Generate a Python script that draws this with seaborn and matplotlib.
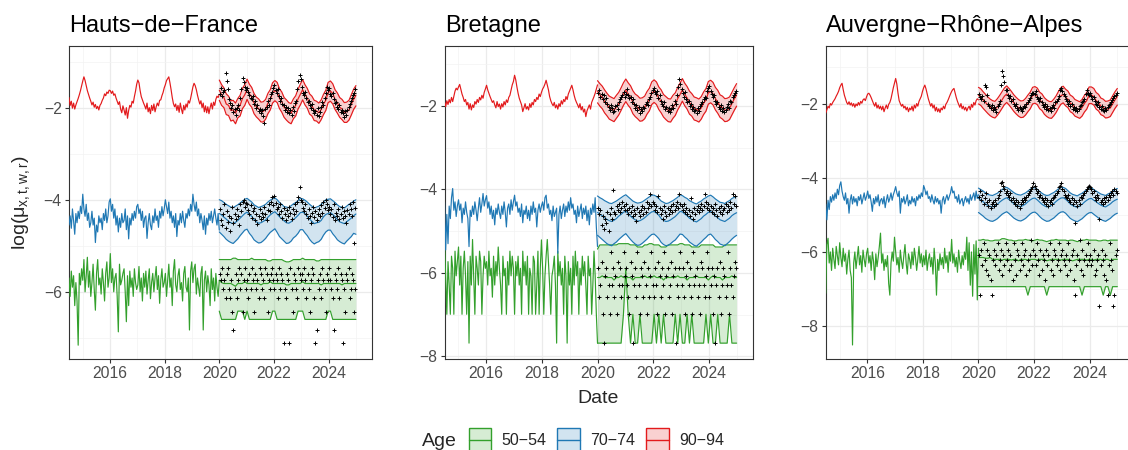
import numpy as np
import matplotlib
matplotlib.use("Agg")
import matplotlib.pyplot as plt
import seaborn as sns
from matplotlib.patches import Rectangle

sns.set_theme(style="ticks")
plt.rcParams["font.family"] = ["Liberation Sans", "DejaVu Sans"]
plt.rcParams["mathtext.fontset"] = "custom"
plt.rcParams["mathtext.rm"] = "Liberation Sans"
plt.rcParams["mathtext.it"] = "Liberation Sans:italic"

regions = ["Hauts−de−France", "Bretagne", "Auvergne−Rhône−Alpes"]
ages = ["50−54", "70−74", "90−94"]
age_colors = ["#33A02C", "#1F78B4", "#E31A1C"]
x_major = [2016, 2018, 2020, 2022, 2024]
y_major = [[-6, -4, -2], [-8, -6, -4, -2], [-8, -6, -4, -2]]

# observed history, two values per month, Jul 2014 -> Dec 2019
hist_span = (2014.5, 2020.0)
# forecast quantiles, monthly, 2020 -> 2025
band_span = (2020.0, 2025.0)
# observed values during the forecast period, two per month
obs_span = (2020.02, 2024.98)

# ---------------- Hauts-de-France ----------------
hist_hdf_90 = [
    -1.78, -1.95, -1.86, -2.01, -1.9, -2.03, -1.94, -1.87, -1.8, -1.72, -1.63, -1.52,
    -1.42, -1.33, -1.41, -1.52, -1.63, -1.71, -1.79, -1.86, -1.94, -1.88, -1.99, -1.93,
    -2.02, -1.97, -2.05, -1.95, -1.91, -1.84, -1.79, -1.7, -1.74, -1.66, -1.69, -1.62,
    -1.63, -1.69, -1.64, -1.73, -1.7, -1.79, -1.86, -1.93, -1.87, -2.03, -2.11, -1.96,
    -2.05, -2.16, -2.0, -2.23, -2.06, -1.95, -1.99, -1.86, -1.9, -1.76, -1.64, -1.49,
    -1.4, -1.46, -1.63, -1.76, -1.83, -1.9, -1.96, -2.03, -1.9, -2.09, -2.0, -2.13,
    -1.95, -2.06, -1.92, -2.09, -1.98, -1.9, -1.96, -1.84, -1.83, -1.74, -1.67, -1.57,
    -1.5, -1.41, -1.37, -1.33, -1.46, -1.61, -1.78, -1.91, -1.98, -1.92, -2.06, -1.95,
    -2.1, -1.9, -2.03, -2.13, -1.95, -2.05, -1.92, -1.99, -1.85, -1.9, -1.8, -1.67,
    -1.55, -1.47, -1.52, -1.61, -1.73, -1.83, -1.92, -1.85, -2.0, -1.9, -2.09, -1.96,
    -2.11, -1.98, -2.13, -2.0, -1.9, -2.03, -1.88, -1.95, -1.82, -1.75, -1.78, -1.71,
]
hist_hdf_70 = [
    -4.55, -4.35, -4.62, -4.2, -4.46, -4.75, -4.3, -4.5, -4.25, -4.41, -4.14, -4.3,
    -3.88, -4.2, -4.36, -4.1, -4.45, -4.29, -4.6, -4.5, -4.25, -4.55, -4.4, -4.93,
    -4.55, -4.7, -4.35, -4.5, -4.4, -4.65, -4.3, -4.45, -4.2, -4.5, -4.35, -4.05,
    -3.98, -4.25, -4.1, -4.4, -4.2, -4.55, -4.35, -4.7, -4.4, -4.6, -4.3, -4.5,
    -4.45, -4.2, -4.65, -4.35, -4.85, -4.4, -4.55, -4.3, -4.45, -4.25, -4.4, -4.15,
    -4.1, -4.3, -4.2, -4.45, -4.25, -4.6, -4.4, -4.35, -4.84, -4.5, -4.3, -4.55,
    -4.65, -4.35, -4.5, -4.2, -4.45, -4.35, -4.6, -4.25, -4.4, -4.15, -4.35, -4.2,
    -4.0, -4.15, -4.3, -4.05, -4.4, -4.25, -4.5, -4.35, -4.6, -4.3, -4.8, -4.45,
    -4.55, -4.3, -4.5, -4.25, -4.45, -4.6, -4.3, -4.4, -4.2, -4.35, -4.1, -4.25,
    -3.88, -4.1, -4.25, -4.05, -4.35, -4.2, -4.5, -4.3, -4.45, -4.65, -4.35, -4.75,
    -4.4, -4.55, -4.3, -4.45, -4.25, -4.5, -4.35, -4.2, -4.4, -4.55, -4.3, -4.66,
]
hist_hdf_50 = [
    -5.7, -6.1, -5.55, -5.9, -5.65, -6.3, -5.8, -6.2, -7.16, -5.6, -5.85, -5.5,
    -5.75, -5.3, -6.0, -5.65, -5.25, -5.9, -5.55, -6.1, -5.8, -5.4, -5.95, -6.4,
    -5.6, -5.3, -5.85, -5.7, -6.05, -5.5, -5.8, -6.2, -5.6, -5.35, -5.9, -5.7,
    -5.17, -5.8, -5.5, -6.0, -5.7, -5.6, -6.1, -6.87, -5.4, -5.85, -5.75, -5.6,
    -5.5, -6.0, -6.65, -5.65, -6.3, -5.55, -5.9, -5.7, -6.1, -5.5, -5.8, -5.95,
    -5.85, -5.45, -6.0, -5.7, -6.2, -5.6, -5.9, -5.55, -6.05, -5.75, -5.5, -6.15,
    -5.8, -5.6, -6.0, -5.7, -5.45, -5.95, -5.65, -6.25, -5.75, -5.5, -5.9, -5.8,
    -5.6, -6.1, -5.75, -5.4, -5.9, -5.7, -6.3, -5.55, -5.3, -5.85, -6.0, -5.65,
    -5.5, -5.95, -5.8, -6.2, -5.6, -5.45, -5.9, -6.0, -5.7, -6.83, -5.55, -5.35,
    -5.8, -5.5, -5.4, -6.05, -5.7, -5.9, -6.1, -5.6, -5.45, -6.83, -5.75, -5.55,
    -6.0, -5.65, -5.85, -6.3, -5.5, -5.95, -5.7, -6.2, -5.6, -5.9, -6.1, -5.75,
]
med_hdf_90 = [
    -1.62, -1.72, -1.78, -1.92, -1.95, -2.06, -2.05, -2.12, -2.0, -1.95, -1.8, -1.72,
    -1.6, -1.7, -1.77, -1.9, -1.98, -2.02, -2.09, -2.08, -2.03, -1.9, -1.83, -1.68,
    -1.63, -1.66, -1.8, -1.87, -1.99, -2.04, -2.1, -2.12, -2.02, -1.95, -1.81, -1.71,
    -1.61, -1.71, -1.79, -1.91, -1.96, -2.05, -2.07, -2.11, -2.04, -1.92, -1.84, -1.67,
    -1.64, -1.69, -1.82, -1.89, -1.99, -2.03, -2.1, -2.09, -2.05, -1.93, -1.82, -1.73,
]
hi_hdf_90 = [
    -1.4, -1.5, -1.57, -1.7, -1.75, -1.85, -1.84, -1.9, -1.8, -1.73, -1.58, -1.5,
    -1.38, -1.49, -1.56, -1.69, -1.77, -1.81, -1.88, -1.87, -1.82, -1.69, -1.61, -1.46,
    -1.41, -1.45, -1.59, -1.66, -1.78, -1.83, -1.89, -1.91, -1.81, -1.74, -1.6, -1.49,
    -1.39, -1.5, -1.58, -1.7, -1.75, -1.84, -1.86, -1.9, -1.83, -1.71, -1.62, -1.45,
    -1.42, -1.48, -1.61, -1.68, -1.78, -1.82, -1.89, -1.88, -1.84, -1.72, -1.6, -1.52,
]
lo_hdf_90 = [
    -1.84, -1.95, -2.0, -2.15, -2.17, -2.29, -2.27, -2.35, -2.22, -2.18, -2.02, -1.95,
    -1.82, -1.93, -1.99, -2.13, -2.2, -2.25, -2.31, -2.31, -2.25, -2.13, -2.05, -1.9,
    -1.85, -1.89, -2.02, -2.1, -2.21, -2.27, -2.32, -2.35, -2.24, -2.18, -2.03, -1.94,
    -1.83, -1.94, -2.01, -2.14, -2.18, -2.28, -2.29, -2.34, -2.26, -2.15, -2.06, -1.89,
    -1.86, -1.92, -2.04, -2.12, -2.21, -2.26, -2.32, -2.32, -2.27, -2.16, -2.04, -1.96,
]
obs_hdf_90 = [
    -1.7, -1.58, -1.75, -1.66, -1.62, -1.25, -1.43, -1.6, -1.82, -1.9, -2.0, -1.95,
    -2.1, -2.02, -2.15, -2.0, -1.95, -2.05, -1.8, -1.6, -1.36, -1.45, -1.55, -1.62,
    -1.58, -1.65, -1.72, -1.78, -1.82, -1.75, -1.92, -1.85, -2.0, -1.95, -2.08, -2.02,
    -2.12, -2.05, -2.18, -2.34, -2.02, -1.98, -1.85, -1.95, -1.78, -1.7, -1.65, -1.58,
    -1.5, -1.62, -1.68, -1.6, -1.75, -1.85, -1.8, -1.92, -1.95, -2.05, -1.98, -2.1,
    -2.0, -2.12, -2.05, -2.15, -1.98, -2.08, -1.9, -1.85, -1.6, -1.42, -1.3, -1.38,
    -1.55, -1.68, -1.72, -1.65, -1.78, -1.88, -1.85, -1.95, -2.0, -1.92, -2.05, -2.12,
    -2.08, -2.15, -2.0, -2.18, -2.1, -1.98, -1.88, -1.95, -1.78, -1.68, -1.55, -1.62,
    -1.58, -1.7, -1.75, -1.68, -1.82, -1.9, -1.88, -1.98, -2.02, -1.95, -2.1, -2.05,
    -2.12, -2.2, -2.08, -2.15, -2.05, -1.98, -1.92, -1.85, -1.8, -1.72, -1.68, -1.6,
]
med_hdf_70 = [
    -4.3, -4.33, -4.38, -4.42, -4.47, -4.5, -4.52, -4.49, -4.45, -4.4, -4.35, -4.3,
    -4.27, -4.32, -4.36, -4.43, -4.48, -4.51, -4.5, -4.47, -4.44, -4.38, -4.33, -4.29,
    -4.26, -4.31, -4.37, -4.41, -4.46, -4.5, -4.51, -4.48, -4.43, -4.39, -4.34, -4.28,
    -4.27, -4.3, -4.36, -4.42, -4.47, -4.52, -4.5, -4.49, -4.45, -4.37, -4.32, -4.3,
    -4.28, -4.32, -4.37, -4.43, -4.48, -4.5, -4.52, -4.48, -4.44, -4.4, -4.35, -4.31,
]
hi_hdf_70 = [
    -4.0, -4.02, -4.06, -4.1, -4.13, -4.16, -4.17, -4.14, -4.11, -4.07, -4.03, -3.99,
    -3.97, -4.01, -4.05, -4.11, -4.14, -4.17, -4.15, -4.13, -4.1, -4.05, -4.01, -3.98,
    -3.96, -4.0, -4.06, -4.1, -4.15, -4.16, -4.17, -4.13, -4.09, -4.06, -4.02, -3.97,
    -3.98, -4.01, -4.05, -4.1, -4.14, -4.18, -4.16, -4.14, -4.1, -4.05, -4.0, -3.99,
    -3.98, -4.02, -4.06, -4.11, -4.15, -4.16, -4.18, -4.14, -4.1, -4.07, -4.03, -4.0,
]
lo_hdf_70 = [
    -4.7, -4.75, -4.8, -4.86, -4.9, -4.93, -4.95, -4.9, -4.85, -4.78, -4.72, -4.66,
    -4.64, -4.73, -4.79, -4.87, -4.91, -4.94, -4.93, -4.89, -4.84, -4.77, -4.71, -4.67,
    -4.63, -4.71, -4.8, -4.85, -4.9, -4.95, -4.94, -4.9, -4.83, -4.79, -4.73, -4.65,
    -4.65, -4.72, -4.78, -4.86, -4.92, -4.96, -4.93, -4.91, -4.86, -4.77, -4.7, -4.66,
    -4.66, -4.74, -4.8, -4.87, -4.91, -4.94, -4.96, -4.9, -4.85, -4.8, -4.73, -4.75,
]
obs_hdf_70 = [
    -4.2, -4.45, -4.55, -4.3, -4.1, -4.62, -4.25, -4.48, -4.35, -4.68, -4.4, -4.15,
    -4.5, -4.3, -4.42, -4.2, -4.35, -4.55, -4.1, -4.25, -4.05, -4.0, -4.15, -4.08,
    -4.1, -4.22, -4.3, -4.12, -4.4, -4.25, -4.18, -4.45, -4.3, -4.52, -4.35, -4.2,
    -4.42, -4.28, -4.38, -4.15, -4.3, -4.45, -4.22, -4.1, -4.25, -4.05, -3.95, -4.12,
    -3.92, -4.08, -4.2, -4.15, -4.32, -4.1, -4.25, -4.4, -4.18, -4.3, -4.45, -4.22,
    -4.35, -4.15, -4.28, -4.42, -4.2, -4.32, -4.1, -4.25, -4.05, -3.95, -3.72, -4.0,
    -4.05, -4.18, -4.25, -4.1, -4.3, -4.4, -4.2, -4.35, -4.5, -4.28, -4.15, -4.38,
    -4.25, -4.45, -4.3, -4.2, -4.35, -4.12, -4.28, -4.05, -4.18, -4.0, -4.1, -4.22,
    -4.15, -4.3, -4.2, -4.38, -4.1, -4.45, -4.28, -4.35, -4.2, -4.42, -4.3, -4.15,
    -4.4, -4.25, -4.35, -4.5, -4.22, -4.3, -4.1, -4.2, -4.35, -4.05, -4.95, -4.18,
]
med_hdf_50 = [
    -5.75, -5.8, -5.82, -5.82, -5.82, -5.82, -5.85, -5.88, -5.82, -5.82, -5.82, -5.78,
    -5.82, -5.82, -5.82, -5.82, -5.82, -5.82, -5.85, -5.82, -5.82, -5.82, -5.78, -5.82,
    -5.82, -5.82, -5.82, -5.82, -5.82, -5.85, -5.85, -5.82, -5.82, -5.82, -5.82, -5.82,
    -5.78, -5.82, -5.82, -5.82, -5.82, -5.82, -5.82, -5.82, -5.85, -5.82, -5.82, -5.82,
    -5.82, -5.82, -5.82, -5.82, -5.82, -5.85, -5.82, -5.82, -5.82, -5.82, -5.82, -5.82,
]
hi_hdf_50 = [
    -5.3, -5.3, -5.3, -5.3, -5.3, -5.3, -5.27, -5.27, -5.3, -5.3, -5.3, -5.3,
    -5.3, -5.3, -5.27, -5.3, -5.3, -5.3, -5.3, -5.3, -5.3, -5.33, -5.33, -5.3,
    -5.3, -5.3, -5.3, -5.3, -5.33, -5.35, -5.35, -5.33, -5.3, -5.3, -5.3, -5.3,
    -5.27, -5.3, -5.3, -5.3, -5.3, -5.3, -5.33, -5.33, -5.3, -5.3, -5.3, -5.3,
    -5.3, -5.3, -5.3, -5.3, -5.3, -5.3, -5.3, -5.3, -5.3, -5.3, -5.3, -5.3,
]
lo_hdf_50 = [
    -6.42, -6.6, -6.6, -6.6, -6.6, -6.6, -6.6, -6.6, -6.42, -6.42, -6.42, -6.6,
    -6.42, -6.6, -6.6, -6.6, -6.6, -6.6, -6.6, -6.6, -6.6, -6.6, -6.6, -6.42,
    -6.42, -6.6, -6.6, -6.6, -6.6, -6.6, -6.6, -6.6, -6.6, -6.6, -6.42, -6.42,
    -6.42, -6.6, -6.6, -6.6, -6.6, -6.6, -6.6, -6.6, -6.6, -6.6, -6.6, -6.42,
    -6.42, -6.6, -6.6, -6.6, -6.6, -6.6, -6.6, -6.6, -6.6, -6.6, -6.6, -6.6,
]
obs_hdf_50 = [
    -5.62, -5.75, -5.49, -5.93, -5.75, -6.14, -5.62, -5.49, -5.93, -6.14, -5.75, -6.43,
    -6.83, -5.93, -5.62, -6.14, -5.75, -5.49, -5.93, -5.62, -6.43, -5.75, -5.49, -5.93,
    -5.75, -6.14, -5.62, -5.93, -5.49, -5.75, -6.43, -5.62, -5.93, -5.75, -6.14, -5.49,
    -5.62, -5.93, -5.75, -6.14, -5.49, -5.62, -6.43, -5.75, -5.93, -5.62, -5.49, -5.75,
    -5.93, -5.62, -5.75, -6.14, -5.49, -5.93, -5.62, -5.75, -7.12, -5.93, -6.14, -5.62,
    -5.75, -7.12, -5.49, -5.93, -6.43, -5.62, -5.75, -5.93, -6.14, -5.49, -5.62, -5.75,
    -5.62, -5.93, -5.49, -5.75, -6.14, -5.62, -5.93, -6.43, -5.75, -5.49, -5.62, -6.14,
    -7.12, -6.83, -5.75, -5.93, -5.62, -6.14, -5.49, -5.75, -5.93, -6.43, -5.62, -5.75,
    -5.49, -5.75, -5.93, -6.14, -6.83, -5.62, -5.75, -5.93, -5.49, -6.14, -5.62, -5.75,
    -7.12, -5.93, -6.43, -5.62, -5.75, -5.49, -6.14, -5.93, -5.62, -5.75, -6.43, -5.93,
]

# ---------------- Bretagne ----------------
hist_bre_90 = [
    -1.9, -2.02, -1.88, -1.97, -1.85, -1.93, -1.8, -1.9, -1.78, -1.65, -1.58, -1.62,
    -1.55, -1.49, -1.6, -1.72, -1.8, -1.9, -1.85, -1.98, -1.92, -2.08, -1.95, -2.1,
    -1.98, -2.04, -1.9, -1.96, -1.85, -1.92, -1.8, -1.86, -1.75, -1.82, -1.68, -1.6,
    -1.51, -1.62, -1.7, -1.78, -1.85, -1.92, -1.88, -1.98, -2.05, -1.9, -2.02, -1.96,
    -2.08, -1.95, -2.03, -1.9, -1.98, -1.86, -1.92, -1.8, -1.75, -1.62, -1.5, -1.42,
    -1.27, -1.38, -1.55, -1.7, -1.82, -1.9, -1.98, -2.14, -2.05, -1.95, -2.08, -2.02,
    -2.1, -1.95, -2.04, -1.92, -1.98, -1.85, -1.9, -1.8, -1.85, -1.72, -1.78, -1.68,
    -1.6, -1.55, -1.48, -1.39, -1.5, -1.62, -1.78, -1.88, -1.95, -2.0, -1.92, -2.05,
    -1.98, -2.08, -1.95, -2.02, -1.88, -1.96, -1.85, -1.9, -1.78, -1.85, -1.72, -1.65,
    -1.58, -1.51, -1.62, -1.75, -1.85, -1.92, -1.98, -2.05, -1.95, -2.1, -2.02, -2.15,
    -2.08, -2.26, -2.12, -2.05, -1.98, -2.08, -1.92, -1.85, -1.78, -1.7, -1.6, -1.5,
]
hist_bre_70 = [
    -4.3, -5.45, -4.6, -5.3, -4.4, -4.7, -4.2, -3.98, -4.5, -4.3, -4.65, -4.4,
    -4.25, -4.5, -4.35, -4.8, -4.45, -4.6, -4.3, -4.55, -4.7, -5.37, -4.5, -4.65,
    -4.4, -4.6, -4.3, -4.5, -4.75, -4.45, -4.2, -4.55, -4.35, -4.1, -4.4, -4.25,
    -4.15, -4.45, -4.3, -4.6, -4.4, -4.7, -4.5, -4.85, -4.45, -4.6, -4.35, -4.55,
    -4.7, -4.4, -4.6, -4.3, -4.55, -4.9, -4.45, -4.35, -4.6, -4.25, -4.5, -4.3,
    -4.14, -4.4, -4.3, -4.55, -4.45, -4.65, -4.35, -4.8, -4.5, -4.6, -4.4, -4.7,
    -4.5, -4.75, -4.4, -4.6, -4.3, -4.55, -4.45, -4.9, -4.5, -4.35, -4.55, -4.4,
    -4.3, -4.5, -4.2, -4.14, -4.45, -4.35, -4.6, -4.5, -4.75, -4.4, -4.65, -4.55,
    -4.45, -5.53, -4.6, -4.4, -4.7, -4.5, -4.35, -4.65, -4.4, -4.55, -4.3, -4.5,
    -4.2, -4.45, -4.35, -4.6, -4.5, -4.8, -4.4, -4.65, -4.5, -4.35, -4.7, -4.45,
    -4.6, -4.4, -4.75, -4.5, -4.85, -4.45, -4.6, -4.35, -4.55, -4.2, -4.9, -5.37,
]
hist_bre_50 = [
    -5.2, -6.07, -6.99, -5.73, -6.29, -6.99, -5.6, -5.89, -6.99, -5.48, -6.07, -5.73,
    -5.38, -6.29, -5.6, -6.99, -5.89, -5.48, -6.07, -6.99, -5.73, -7.68, -5.6, -6.29,
    -5.2, -6.07, -6.99, -5.6, -5.89, -6.29, -5.48, -5.73, -6.99, -6.07, -5.6, -5.89,
    -5.73, -6.29, -5.48, -6.07, -5.89, -6.58, -5.6, -6.29, -5.73, -6.07, -5.38, -5.89,
    -6.29, -6.99, -5.6, -6.07, -5.89, -6.99, -5.73, -6.29, -5.48, -6.07, -5.6, -5.89,
    -6.99, -5.73, -6.07, -5.6, -6.29, -5.89, -6.99, -5.48, -6.07, -5.73, -6.29, -5.6,
    -6.99, -5.89, -6.07, -6.99, -5.6, -5.73, -6.99, -6.29, -5.48, -6.99, -5.89, -5.21,
    -5.89, -6.99, -6.07, -5.6, -5.2, -5.73, -6.29, -6.99, -6.07, -5.89, -5.6, -6.29,
    -7.68, -5.48, -6.07, -5.73, -6.29, -5.89, -6.99, -5.6, -6.07, -7.68, -5.73, -6.29,
    -5.89, -6.99, -5.6, -6.29, -5.48, -6.07, -5.73, -6.99, -5.89, -6.29, -5.6, -6.07,
    -5.73, -6.29, -6.99, -5.6, -6.07, -5.89, -6.99, -6.29, -5.48, -6.07, -6.99, -7.68,
]
med_bre_90 = [
    -1.66, -1.74, -1.8, -1.9, -1.97, -2.05, -2.08, -2.11, -2.03, -1.95, -1.84, -1.72,
    -1.63, -1.72, -1.79, -1.92, -1.99, -2.04, -2.1, -2.09, -2.04, -1.93, -1.85, -1.7,
    -1.65, -1.7, -1.82, -1.9, -2.0, -2.06, -2.11, -2.12, -2.03, -1.96, -1.83, -1.73,
    -1.62, -1.73, -1.81, -1.93, -1.98, -2.07, -2.09, -2.12, -2.05, -1.94, -1.86, -1.69,
    -1.66, -1.71, -1.83, -1.91, -2.01, -2.05, -2.11, -2.1, -2.06, -1.95, -1.84, -1.74,
]
hi_bre_90 = [
    -1.4, -1.47, -1.53, -1.62, -1.7, -1.77, -1.8, -1.83, -1.75, -1.68, -1.57, -1.45,
    -1.36, -1.45, -1.52, -1.64, -1.72, -1.76, -1.82, -1.81, -1.77, -1.66, -1.58, -1.43,
    -1.38, -1.43, -1.55, -1.62, -1.73, -1.78, -1.83, -1.84, -1.75, -1.69, -1.56, -1.46,
    -1.35, -1.46, -1.54, -1.65, -1.71, -1.79, -1.81, -1.84, -1.78, -1.67, -1.59, -1.42,
    -1.39, -1.44, -1.56, -1.63, -1.74, -1.77, -1.83, -1.82, -1.79, -1.68, -1.57, -1.47,
]
lo_bre_90 = [
    -1.93, -2.01, -2.07, -2.17, -2.24, -2.32, -2.35, -2.38, -2.3, -2.22, -2.11, -1.99,
    -1.9, -1.99, -2.06, -2.19, -2.26, -2.31, -2.37, -2.36, -2.31, -2.2, -2.12, -1.97,
    -1.92, -1.97, -2.09, -2.17, -2.27, -2.33, -2.38, -2.39, -2.3, -2.23, -2.1, -2.0,
    -1.89, -2.0, -2.08, -2.2, -2.25, -2.34, -2.36, -2.39, -2.32, -2.21, -2.13, -1.96,
    -1.93, -1.98, -2.1, -2.18, -2.28, -2.32, -2.38, -2.37, -2.33, -2.22, -2.11, -2.01,
]
obs_bre_90 = [
    -1.7, -1.62, -1.78, -1.72, -1.85, -1.75, -1.9, -1.82, -1.95, -2.02, -2.1, -1.98,
    -2.05, -2.15, -2.12, -2.0, -1.98, -2.08, -1.92, -1.85, -1.8, -1.75, -1.68, -1.78,
    -1.72, -1.6, -1.75, -1.82, -1.78, -1.9, -1.85, -1.95, -2.05, -1.98, -2.1, -2.02,
    -2.18, -2.08, -2.12, -2.02, -2.05, -1.95, -1.9, -1.98, -1.85, -1.78, -1.7, -1.62,
    -1.58, -1.68, -1.72, -1.65, -1.82, -1.75, -1.88, -1.95, -2.0, -1.92, -2.08, -2.02,
    -2.12, -2.05, -2.15, -2.08, -1.98, -2.05, -1.88, -1.95, -1.75, -1.55, -1.35, -1.48,
    -1.6, -1.7, -1.78, -1.68, -1.85, -1.92, -1.88, -2.0, -1.95, -2.08, -2.02, -2.12,
    -2.1, -2.18, -2.05, -2.12, -2.0, -1.95, -1.92, -1.85, -1.78, -1.82, -1.65, -1.58,
    -1.52, -1.65, -1.72, -1.8, -1.75, -1.88, -1.95, -1.9, -2.02, -2.08, -1.98, -2.12,
    -2.05, -2.15, -2.1, -2.02, -1.95, -2.05, -1.88, -1.92, -1.8, -1.75, -1.7, -1.65,
]
med_bre_70 = [
    -4.55, -4.6, -4.63, -4.68, -4.72, -4.75, -4.77, -4.74, -4.7, -4.64, -4.6, -4.55,
    -4.52, -4.58, -4.64, -4.69, -4.73, -4.76, -4.75, -4.72, -4.68, -4.63, -4.58, -4.54,
    -4.53, -4.57, -4.62, -4.7, -4.74, -4.77, -4.76, -4.73, -4.69, -4.65, -4.59, -4.53,
    -4.54, -4.59, -4.63, -4.69, -4.72, -4.76, -4.78, -4.74, -4.7, -4.64, -4.6, -4.55,
    -4.53, -4.58, -4.64, -4.68, -4.73, -4.75, -4.77, -4.73, -4.69, -4.63, -4.59, -4.56,
]
hi_bre_70 = [
    -4.16, -4.2, -4.23, -4.27, -4.3, -4.33, -4.34, -4.31, -4.28, -4.24, -4.2, -4.16,
    -4.13, -4.18, -4.23, -4.28, -4.31, -4.33, -4.32, -4.3, -4.26, -4.22, -4.18, -4.14,
    -4.14, -4.17, -4.22, -4.28, -4.31, -4.34, -4.33, -4.3, -4.27, -4.23, -4.19, -4.13,
    -4.15, -4.19, -4.22, -4.27, -4.3, -4.33, -4.35, -4.31, -4.28, -4.23, -4.2, -4.16,
    -4.14, -4.18, -4.23, -4.27, -4.31, -4.32, -4.34, -4.3, -4.27, -4.22, -4.19, -4.17,
]
lo_bre_70 = [
    -5.1, -5.15, -5.2, -5.25, -5.3, -5.33, -5.35, -5.3, -5.26, -5.2, -5.15, -5.1,
    -5.06, -5.13, -5.2, -5.26, -5.31, -5.34, -5.33, -5.29, -5.24, -5.19, -5.13, -5.08,
    -5.07, -5.12, -5.18, -5.27, -5.32, -5.35, -5.34, -5.3, -5.25, -5.21, -5.14, -5.07,
    -5.08, -5.14, -5.19, -5.26, -5.3, -5.34, -5.36, -5.31, -5.26, -5.2, -5.15, -5.09,
    -5.07, -5.13, -5.2, -5.25, -5.31, -5.33, -5.35, -5.3, -5.25, -5.19, -5.14, -5.1,
]
obs_bre_70 = [
    -4.45, -4.6, -4.5, -4.85, -4.65, -4.95, -4.7, -4.8, -4.55, -5.0, -4.6, -4.45,
    -4.7, -4.02, -4.55, -4.6, -4.4, -4.5, -4.35, -4.55, -4.45, -4.3, -4.4, -4.5,
    -4.35, -4.5, -4.6, -4.45, -4.55, -4.4, -4.65, -4.5, -4.6, -4.75, -4.45, -4.55,
    -4.65, -4.5, -4.4, -4.6, -4.45, -4.55, -4.3, -4.45, -4.35, -4.1, -4.4, -4.3,
    -4.35, -4.5, -4.4, -4.55, -4.15, -4.45, -4.6, -4.5, -4.7, -4.4, -4.55, -4.65,
    -4.45, -4.6, -4.5, -4.4, -4.55, -4.35, -4.5, -4.4, -4.3, -4.45, -4.1, -4.35,
    -4.4, -4.5, -4.35, -4.55, -4.45, -4.6, -4.5, -4.65, -4.2, -4.55, -4.7, -4.45,
    -4.6, -4.5, -4.4, -4.55, -4.45, -4.35, -4.5, -4.4, -4.1, -4.3, -4.45, -4.35,
    -4.5, -4.4, -4.55, -4.45, -4.6, -4.35, -4.5, -4.65, -4.45, -4.55, -4.4, -4.6,
    -4.5, -4.45, -4.35, -4.55, -4.4, -4.5, -4.3, -4.45, -4.1, -4.35, -4.15, -4.4,
]
med_bre_50 = [
    -6.11, -6.11, -6.07, -6.11, -6.11, -6.11, -6.11, -6.17, -6.11, -6.11, -6.07, -6.11,
    -6.11, -6.11, -6.11, -6.17, -6.11, -6.11, -6.11, -6.11, -6.07, -6.11, -6.11, -6.11,
    -6.07, -6.11, -6.11, -6.11, -6.17, -6.11, -6.11, -6.11, -6.11, -6.11, -6.07, -6.11,
    -6.11, -6.11, -6.17, -6.11, -6.11, -6.11, -6.07, -6.11, -6.11, -6.11, -6.11, -6.17,
    -6.11, -6.07, -6.11, -6.11, -6.11, -6.17, -6.11, -6.11, -6.11, -6.07, -6.11, -6.11,
]
hi_bre_50 = [
    -5.43, -5.33, -5.33, -5.33, -5.33, -5.33, -5.33, -5.33, -5.33, -5.3, -5.3, -5.3,
    -5.3, -5.3, -5.33, -5.33, -5.33, -5.38, -5.38, -5.38, -5.33, -5.33, -5.3, -5.3,
    -5.33, -5.33, -5.33, -5.38, -5.38, -5.38, -5.33, -5.33, -5.33, -5.33, -5.33, -5.3,
    -5.3, -5.33, -5.33, -5.33, -5.38, -5.38, -5.38, -5.38, -5.33, -5.33, -5.33, -5.33,
    -5.33, -5.33, -5.38, -5.38, -5.38, -5.38, -5.33, -5.33, -5.33, -5.33, -5.33, -5.33,
]
lo_bre_50 = [
    -7.68, -7.68, -7.68, -7.68, -7.68, -7.68, -7.68, -7.68, -7.68, -7.68, -7.68, -6.99,
    -5.89, -6.99, -7.68, -6.99, -7.68, -7.68, -6.99, -7.68, -7.68, -7.68, -7.68, -7.68,
    -6.99, -7.68, -6.99, -7.68, -6.99, -7.68, -7.68, -7.68, -7.68, -6.99, -7.68, -6.99,
    -7.68, -7.68, -6.99, -7.68, -6.99, -7.68, -7.68, -7.68, -7.68, -7.68, -6.99, -7.68,
    -6.99, -7.68, -7.68, -6.99, -7.68, -7.68, -7.68, -7.68, -6.99, -7.68, -7.68, -7.68,
]
obs_bre_50 = [
    -5.89, -6.58, -6.29, -5.73, -6.99, -7.68, -6.07, -5.89, -6.58, -6.29, -6.99, -5.49,
    -6.29, -5.89, -6.58, -6.07, -6.99, -5.73, -6.29, -5.89, -6.58, -6.29, -5.49, -6.07,
    -5.89, -6.29, -6.58, -6.99, -5.73, -6.07, -7.68, -6.29, -5.89, -6.58, -5.49, -6.29,
    -6.99, -5.89, -6.07, -6.58, -5.73, -6.29, -6.99, -5.89, -6.58, -6.07, -5.49, -6.29,
    -6.58, -5.89, -6.29, -6.99, -5.73, -6.07, -6.58, -5.89, -6.29, -5.49, -6.99, -6.07,
    -5.89, -6.58, -6.29, -5.73, -6.99, -6.07, -5.89, -7.68, -6.29, -6.58, -5.89, -5.49,
    -6.29, -5.89, -6.58, -6.99, -6.07, -5.73, -6.29, -5.89, -6.58, -6.99, -5.49, -6.29,
    -6.07, -5.89, -6.58, -6.29, -6.99, -5.73, -5.89, -6.29, -6.58, -6.07, -5.49, -5.89,
    -6.58, -6.29, -5.89, -6.99, -6.07, -7.68, -6.29, -5.89, -6.58, -5.73, -6.99, -6.29,
    -5.89, -6.07, -6.58, -6.29, -5.49, -6.99, -5.89, -6.29, -6.58, -6.07, -5.73, -5.89,
]

# ---------------- Auvergne-Rhone-Alpes ----------------
hist_ara_90 = [
    -2.24, -2.15, -2.05, -2.1, -1.98, -2.02, -1.95, -1.9, -1.85, -1.78, -1.72, -1.65,
    -1.55, -1.48, -1.43, -1.6, -1.75, -1.85, -1.95, -2.0, -1.93, -2.02, -1.96, -2.05,
    -1.98, -2.08, -1.99, -2.04, -1.95, -2.02, -1.92, -1.97, -1.88, -1.85, -1.9, -1.8,
    -1.72, -1.7, -1.75, -1.82, -1.9, -1.98, -2.05, -1.95, -2.1, -2.02, -2.12, -2.05,
    -2.15, -2.05, -2.2, -2.1, -2.02, -2.12, -2.0, -1.95, -1.85, -1.7, -1.55, -1.42,
    -1.3, -1.45, -1.7, -1.9, -1.98, -2.05, -2.0, -2.1, -2.05, -2.15, -2.08, -2.2,
    -2.1, -2.15, -2.05, -2.18, -2.02, -2.1, -1.98, -2.05, -1.92, -1.85, -1.78, -1.65,
    -1.55, -1.48, -1.58, -1.72, -1.85, -1.95, -2.05, -1.98, -2.1, -2.02, -2.18, -2.08,
    -2.2, -2.12, -2.22, -2.1, -2.15, -2.05, -2.12, -2.0, -1.95, -1.88, -1.8, -1.72,
    -1.65, -1.6, -1.57, -1.7, -1.82, -1.92, -2.0, -2.08, -1.98, -2.12, -2.05, -2.15,
    -2.08, -2.18, -2.1, -2.05, -2.15, -2.0, -2.08, -1.95, -2.02, -1.9, -1.85, -1.88,
]
hist_ara_70 = [
    -4.7, -5.13, -4.6, -4.85, -4.5, -4.65, -4.45, -4.6, -4.4, -4.55, -4.3, -4.45,
    -4.2, -4.1, -4.35, -4.5, -4.6, -4.4, -4.7, -4.55, -4.95, -4.6, -4.45, -4.7,
    -4.5, -4.65, -4.55, -4.75, -4.5, -4.6, -4.45, -4.7, -4.55, -4.4, -4.6, -4.5,
    -4.35, -4.55, -4.45, -4.65, -4.9, -4.55, -4.7, -4.5, -4.65, -4.45, -4.75, -4.6,
    -4.55, -4.7, -4.5, -4.8, -4.6, -4.45, -4.65, -4.55, -4.4, -4.6, -4.45, -4.35,
    -4.23, -4.4, -4.5, -4.35, -4.95, -4.55, -4.65, -4.5, -4.7, -4.6, -4.45, -4.75,
    -4.6, -4.7, -4.5, -4.65, -4.55, -4.75, -4.5, -4.6, -4.45, -4.55, -4.4, -4.5,
    -4.2, -4.3, -4.45, -4.35, -4.55, -4.5, -4.65, -4.45, -4.6, -4.7, -4.5, -4.65,
    -4.55, -4.7, -4.6, -4.95, -4.6, -4.5, -4.7, -4.55, -4.45, -4.6, -4.5, -4.4,
    -4.23, -4.4, -4.35, -4.55, -4.5, -4.65, -4.45, -4.7, -4.6, -4.55, -4.75, -4.6,
    -4.5, -4.65, -4.55, -4.7, -4.45, -4.6, -4.5, -4.4, -4.6, -4.35, -4.55, -4.45,
]
hist_ara_50 = [
    -7.12, -5.8, -5.63, -6.3, -6.0, -6.5, -5.9, -6.2, -6.45, -5.85, -6.1, -6.35,
    -5.75, -6.15, -6.4, -5.9, -6.25, -6.05, -6.6, -6.2, -5.95, -6.5, -6.7, -8.52,
    -6.3, -6.0, -6.45, -6.15, -5.85, -6.35, -6.1, -6.55, -5.95, -6.2, -6.4, -6.05,
    -5.9, -6.3, -6.1, -6.5, -6.0, -6.25, -6.75, -6.05, -6.4, -6.15, -5.85, -5.49,
    -6.3, -6.05, -6.5, -6.2, -6.4, -6.1, -6.85, -7.17, -6.3, -6.0, -6.25, -5.6,
    -6.0, -6.35, -6.15, -6.55, -5.95, -6.25, -6.45, -6.1, -5.8, -6.3, -6.6, -6.05,
    -6.2, -6.45, -6.0, -6.35, -5.9, -6.15, -6.5, -6.2, -5.85, -6.3, -6.05, -6.4,
    -6.1, -6.35, -5.95, -6.5, -6.2, -6.05, -6.4, -6.15, -6.6, -5.9, -6.3, -7.17,
    -6.2, -6.5, -6.05, -6.35, -6.15, -6.45, -5.9, -6.3, -6.1, -6.55, -6.0, -6.25,
    -5.66, -6.3, -6.05, -6.4, -6.15, -6.55, -5.95, -6.25, -6.45, -6.1, -6.35, -6.0,
    -6.2, -5.6, -6.5, -5.75, -6.9, -6.0, -7.2, -5.8, -6.6, -5.7, -7.3, -5.9,
]
med_ara_90 = [
    -1.76, -1.8, -1.88, -1.95, -2.02, -2.08, -2.12, -2.14, -2.07, -1.98, -1.88, -1.78,
    -1.72, -1.79, -1.87, -1.96, -2.03, -2.09, -2.13, -2.12, -2.06, -1.97, -1.89, -1.76,
    -1.74, -1.78, -1.89, -1.94, -2.04, -2.1, -2.14, -2.15, -2.08, -1.99, -1.87, -1.77,
    -1.73, -1.81, -1.86, -1.97, -2.01, -2.09, -2.12, -2.15, -2.09, -1.98, -1.9, -1.75,
    -1.75, -1.79, -1.9, -1.95, -2.05, -2.08, -2.14, -2.13, -2.1, -1.99, -1.88, -1.79,
]
hi_ara_90 = [
    -1.54, -1.58, -1.66, -1.73, -1.8, -1.86, -1.9, -1.92, -1.85, -1.76, -1.66, -1.56,
    -1.5, -1.57, -1.65, -1.74, -1.81, -1.87, -1.91, -1.9, -1.84, -1.75, -1.67, -1.54,
    -1.52, -1.56, -1.67, -1.72, -1.82, -1.88, -1.92, -1.93, -1.86, -1.77, -1.65, -1.55,
    -1.51, -1.59, -1.64, -1.75, -1.79, -1.87, -1.9, -1.93, -1.87, -1.76, -1.68, -1.53,
    -1.53, -1.57, -1.68, -1.73, -1.83, -1.86, -1.92, -1.91, -1.88, -1.77, -1.66, -1.57,
]
lo_ara_90 = [
    -1.99, -2.03, -2.11, -2.18, -2.25, -2.31, -2.35, -2.37, -2.3, -2.21, -2.11, -2.01,
    -1.95, -2.02, -2.1, -2.19, -2.26, -2.32, -2.36, -2.35, -2.29, -2.2, -2.12, -1.99,
    -1.97, -2.01, -2.12, -2.17, -2.27, -2.33, -2.37, -2.38, -2.31, -2.22, -2.1, -2.0,
    -1.96, -2.04, -2.09, -2.2, -2.24, -2.32, -2.35, -2.38, -2.32, -2.21, -2.13, -1.98,
    -1.98, -2.02, -2.13, -2.18, -2.28, -2.31, -2.37, -2.36, -2.33, -2.22, -2.11, -2.02,
]
obs_ara_90 = [
    -1.72, -1.8, -1.85, -1.78, -1.9, -1.48, -1.52, -1.75, -1.98, -2.05, -2.1, -2.02,
    -2.15, -2.08, -2.12, -2.2, -2.05, -1.98, -1.92, -1.48, -1.11, -1.23, -1.39, -1.61,
    -1.62, -1.75, -1.82, -1.78, -1.92, -1.85, -1.98, -2.05, -2.0, -2.1, -2.15, -2.08,
    -2.12, -2.18, -2.1, -2.05, -2.08, -1.98, -1.95, -1.88, -1.82, -1.75, -1.7, -1.68,
    -1.72, -1.65, -1.8, -1.85, -1.9, -1.82, -1.95, -2.02, -2.08, -1.98, -2.12, -2.05,
    -2.15, -2.1, -2.18, -2.08, -2.02, -2.1, -1.95, -1.9, -1.85, -1.78, -1.6, -1.55,
    -1.65, -1.72, -1.78, -1.85, -1.9, -1.98, -1.92, -2.05, -2.0, -2.12, -2.08, -2.15,
    -2.1, -2.18, -2.12, -2.05, -2.02, -1.95, -1.92, -1.85, -1.72, -1.62, -1.68, -1.75,
    -1.7, -1.78, -1.85, -1.8, -1.92, -1.98, -2.02, -1.95, -2.08, -2.12, -2.05, -2.15,
    -2.18, -2.1, -2.15, -2.08, -2.02, -1.98, -1.95, -1.88, -1.82, -1.78, -1.75, -1.7,
]
med_ara_70 = [
    -4.55, -4.6, -4.64, -4.7, -4.74, -4.77, -4.78, -4.75, -4.71, -4.65, -4.6, -4.56,
    -4.53, -4.58, -4.63, -4.69, -4.73, -4.76, -4.77, -4.74, -4.7, -4.64, -4.59, -4.55,
    -4.54, -4.59, -4.65, -4.71, -4.75, -4.78, -4.77, -4.73, -4.69, -4.63, -4.58, -4.54,
    -4.53, -4.57, -4.63, -4.7, -4.74, -4.77, -4.79, -4.75, -4.71, -4.65, -4.6, -4.56,
    -4.55, -4.6, -4.64, -4.69, -4.73, -4.76, -4.78, -4.74, -4.7, -4.64, -4.6, -4.57,
]
hi_ara_70 = [
    -4.27, -4.31, -4.35, -4.4, -4.44, -4.46, -4.47, -4.44, -4.41, -4.36, -4.31, -4.27,
    -4.25, -4.29, -4.34, -4.39, -4.43, -4.45, -4.46, -4.43, -4.4, -4.35, -4.3, -4.26,
    -4.26, -4.3, -4.36, -4.41, -4.45, -4.47, -4.46, -4.42, -4.39, -4.34, -4.29, -4.25,
    -4.25, -4.28, -4.34, -4.4, -4.44, -4.46, -4.48, -4.44, -4.41, -4.36, -4.31, -4.27,
    -4.26, -4.31, -4.35, -4.39, -4.43, -4.45, -4.47, -4.43, -4.4, -4.35, -4.31, -4.28,
]
lo_ara_70 = [
    -4.93, -4.98, -5.03, -5.09, -5.13, -5.16, -5.17, -5.14, -5.1, -5.04, -4.98, -4.94,
    -4.91, -4.96, -5.02, -5.08, -5.12, -5.15, -5.16, -5.13, -5.09, -5.03, -4.97, -4.93,
    -4.92, -4.97, -5.04, -5.1, -5.14, -5.17, -5.16, -5.12, -5.08, -5.02, -4.96, -4.92,
    -4.91, -4.95, -5.02, -5.09, -5.13, -5.16, -5.18, -5.14, -5.1, -5.04, -4.98, -4.94,
    -4.93, -4.98, -5.03, -5.08, -5.12, -5.15, -5.17, -5.13, -5.09, -5.03, -4.98, -4.95,
]
obs_ara_70 = [
    -4.5, -4.35, -4.6, -4.45, -4.7, -4.55, -4.4, -4.65, -4.75, -4.6, -4.8, -4.7,
    -4.65, -4.75, -4.6, -4.7, -4.55, -4.45, -4.35, -4.14, -4.1, -4.2, -4.3, -4.4,
    -4.35, -4.45, -4.5, -4.4, -4.6, -4.55, -4.65, -4.7, -4.6, -4.75, -4.65, -4.8,
    -4.7, -4.6, -4.65, -4.55, -4.6, -4.5, -4.45, -4.4, -4.35, -4.3, -4.25, -4.14,
    -4.2, -4.3, -4.4, -4.35, -4.5, -4.45, -4.55, -4.6, -4.65, -4.55, -4.7, -4.6,
    -4.75, -4.65, -4.6, -4.7, -4.55, -4.5, -4.45, -4.4, -4.35, -4.25, -4.2, -4.14,
    -4.3, -4.35, -4.45, -4.5, -4.55, -4.45, -4.6, -4.65, -4.55, -4.7, -4.6, -5.22,
    -4.65, -4.75, -4.6, -4.7, -4.5, -4.55, -4.45, -4.4, -4.35, -4.3, -4.25, -4.2,
    -4.23, -4.3, -4.4, -4.35, -4.5, -4.6, -4.45, -4.55, -5.12, -4.65, -4.6, -4.7,
    -4.55, -4.65, -4.5, -4.6, -4.45, -4.5, -4.4, -4.35, -4.45, -4.3, -4.35, -4.4,
]
med_ara_50 = [
    -6.15, -6.15, -6.15, -6.17, -6.17, -6.15, -6.2, -6.2, -6.2, -6.2, -6.22, -6.2,
    -6.2, -6.2, -6.22, -6.2, -6.2, -6.24, -6.2, -6.2, -6.2, -6.22, -6.2, -6.2,
    -6.2, -6.22, -6.2, -6.2, -6.2, -6.24, -6.22, -6.2, -6.2, -6.2, -6.2, -6.22,
    -6.2, -6.2, -6.2, -6.22, -6.24, -6.22, -6.2, -6.2, -6.2, -6.2, -6.22, -6.2,
    -6.2, -6.22, -6.2, -6.2, -6.2, -6.22, -6.2, -6.2, -6.24, -6.2, -6.2, -6.2,
]
hi_ara_50 = [
    -5.68, -5.68, -5.66, -5.68, -5.68, -5.7, -5.7, -5.68, -5.68, -5.68, -5.64, -5.64,
    -5.66, -5.68, -5.68, -5.7, -5.7, -5.68, -5.68, -5.68, -5.66, -5.68, -5.68, -5.7,
    -5.68, -5.66, -5.68, -5.68, -5.7, -5.72, -5.7, -5.68, -5.68, -5.66, -5.68, -5.68,
    -5.68, -5.68, -5.7, -5.68, -5.68, -5.7, -5.72, -5.7, -5.68, -5.68, -5.66, -5.68,
    -5.68, -5.68, -5.68, -5.7, -5.7, -5.68, -5.68, -5.7, -5.68, -5.68, -5.68, -5.68,
]
lo_ara_50 = [
    -6.94, -6.94, -6.94, -6.94, -6.94, -6.94, -6.94, -6.94, -6.94, -6.94, -6.94, -6.94,
    -6.94, -6.94, -6.94, -6.94, -6.94, -6.94, -6.94, -6.94, -6.94, -7.17, -6.94, -6.94,
    -6.94, -6.94, -6.94, -6.94, -6.94, -7.17, -6.94, -6.94, -6.94, -6.94, -6.94, -6.94,
    -6.94, -6.94, -6.94, -6.94, -6.94, -6.94, -6.94, -6.94, -7.17, -6.94, -6.94, -6.94,
    -6.94, -6.94, -6.94, -6.94, -6.94, -7.17, -6.94, -6.94, -7.17, -6.94, -6.94, -6.94,
]
obs_ara_50 = [
    -6.08, -7.17, -5.95, -6.35, -5.77, -6.22, -6.49, -5.95, -6.62, -6.08, -6.76, -7.17,
    -6.22, -5.95, -6.35, -6.08, -5.77, -6.49, -6.22, -5.95, -6.62, -6.08, -6.35, -5.77,
    -6.22, -5.95, -6.49, -6.08, -6.35, -6.76, -5.77, -6.22, -6.62, -5.95, -6.08, -6.49,
    -6.22, -5.77, -6.35, -6.08, -5.95, -6.62, -6.22, -6.49, -6.08, -5.68, -6.35, -5.95,
    -6.08, -6.35, -5.77, -6.22, -6.62, -5.95, -6.49, -6.08, -6.22, -6.76, -5.95, -6.35,
    -6.08, -5.77, -6.49, -6.22, -6.62, -5.95, -6.08, -6.35, -6.22, -5.77, -6.49, -6.08,
    -5.95, -6.22, -6.35, -6.08, -6.62, -5.77, -6.22, -6.49, -6.08, -5.95, -6.76, -7.17,
    -6.35, -6.08, -6.22, -5.68, -6.49, -5.95, -6.62, -6.22, -6.08, -6.35, -5.77, -6.22,
    -6.08, -6.35, -6.22, -5.95, -6.62, -6.49, -6.22, -6.08, -7.47, -6.35, -5.95, -6.22,
    -6.62, -6.08, -6.76, -7.17, -6.35, -5.77, -6.22, -6.49, -7.47, -7.17, -6.08, -5.95,
]

panels = {
    "Hauts−de−France": [
        (hist_hdf_50, lo_hdf_50, med_hdf_50, hi_hdf_50, obs_hdf_50),
        (hist_hdf_70, lo_hdf_70, med_hdf_70, hi_hdf_70, obs_hdf_70),
        (hist_hdf_90, lo_hdf_90, med_hdf_90, hi_hdf_90, obs_hdf_90),
    ],
    "Bretagne": [
        (hist_bre_50, lo_bre_50, med_bre_50, hi_bre_50, obs_bre_50),
        (hist_bre_70, lo_bre_70, med_bre_70, hi_bre_70, obs_bre_70),
        (hist_bre_90, lo_bre_90, med_bre_90, hi_bre_90, obs_bre_90),
    ],
    "Auvergne−Rhône−Alpes": [
        (hist_ara_50, lo_ara_50, med_ara_50, hi_ara_50, obs_ara_50),
        (hist_ara_70, lo_ara_70, med_ara_70, hi_ara_70, obs_ara_70),
        (hist_ara_90, lo_ara_90, med_ara_90, hi_ara_90, obs_ara_90),
    ],
}

# ---------------- layout (pixels) ----------------
W, H = 1128, 450
fig = plt.figure(figsize=(W / 100, H / 100), dpi=100)
panel_px = [(69.0, 303.3), (444.5, 308.8), (825.7, 308.3)]
top_px, bottom_px = 46.0, 359.0
ylims = [(-7.46, -0.66), (-8.06, -0.57), (-8.90, -0.42)]
xlim = (2014.5, 2025.6)
lw = 0.85


def grid_for(span, n):
    return np.linspace(span[0], span[1], n)


for k, region in enumerate(regions):
    left, width = panel_px[k]
    ax = fig.add_axes([left / W, 1 - bottom_px / H, width / W, (bottom_px - top_px) / H])
    ax.set_facecolor("white")

    for (hist, lo, med, hi, obs), color in zip(panels[region], age_colors):
        t_band = grid_for(band_span, len(med))
        ax.fill_between(t_band, lo, hi, color=color, alpha=0.2, lw=0, zorder=2)
        for line in (lo, hi, med):
            sns.lineplot(x=t_band, y=line, color=color, linewidth=lw, ax=ax,
                         estimator=None, errorbar=None, sort=False, zorder=3)
        sns.lineplot(x=grid_for(hist_span, len(hist)), y=hist, color=color,
                     linewidth=lw, ax=ax, estimator=None, errorbar=None,
                     sort=False, zorder=3)
    for (hist, lo, med, hi, obs) in panels[region]:
        sns.scatterplot(x=grid_for(obs_span, len(obs)), y=obs, marker="+",
                        color="black", s=10, linewidth=0.7, ax=ax, zorder=4)

    ax.set_xlim(*xlim)
    ax.set_ylim(*ylims[k])
    ax.set_xticks(x_major)
    ax.set_xticks([2015, 2017, 2019, 2021, 2023, 2025], minor=True)
    ax.set_yticks(y_major[k])
    ax.set_yticks([-7, -5, -3, -1], minor=True)
    ax.set_xticklabels([str(v) for v in x_major])
    ax.grid(which="major", color="#EBEBEB", linewidth=0.9, zorder=0)
    ax.grid(which="minor", color="#F3F3F3", linewidth=0.5, zorder=0)
    ax.set_axisbelow(True)
    ax.set_xlabel("")
    ax.set_ylabel("")
    for sp in ax.spines.values():
        sp.set_visible(True)
        sp.set_color("#333333")
        sp.set_linewidth(0.8)
    ax.tick_params(which="major", direction="out", length=2.7, width=0.8,
                   color="#333333", labelcolor="#4D4D4D", labelsize=11.3, pad=2.5)
    ax.tick_params(which="minor", length=0)

    fig.text((left + 0.5) / W, 1 - 32 / H, region, fontsize=17, ha="left",
             va="baseline", color="black")

fig.text(21 / W, 1 - 202.5 / H, r"log($\mathrm{μ_{x,t,w,r}}$)", rotation=90,
         ha="center", va="center", fontsize=14)
fig.text(598 / W, 1 - 403 / H, "Date", ha="center", va="baseline", fontsize=14)

# legend drawn in figure pixel coordinates
lg = fig.add_axes([0, 0, 1, 1], facecolor="none")
lg.set_xlim(0, W)
lg.set_ylim(H, 0)
lg.axis("off")
lg.text(422, 445.5, "Age", fontsize=14, ha="left", va="baseline")
key_x = [468.5, 557.3, 646.0]
label_x = [501, 590, 679]
for kx, lx, color, age in zip(key_x, label_x, age_colors, ages):
    lg.add_patch(Rectangle((kx, 428.3), 22.5, 23, facecolor=color, alpha=0.2,
                           edgecolor="none"))
    lg.add_patch(Rectangle((kx, 428.3), 22.5, 23, facecolor="none",
                           edgecolor=color, linewidth=1.0))
    lg.plot([kx, kx + 22.5], [440, 440], color=color, linewidth=1.0)
    lg.text(lx, 445.3, age, fontsize=11.5, ha="left", va="baseline")

fig.savefig("out.png", dpi=100)
